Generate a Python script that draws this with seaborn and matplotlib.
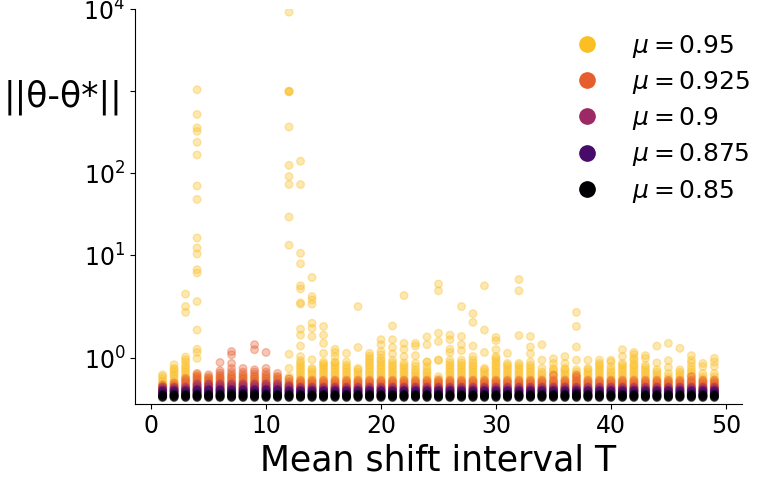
import numpy as np
import pandas as pd
import matplotlib
matplotlib.use("Agg")
import matplotlib.pyplot as plt
import seaborn as sns
from matplotlib.lines import Line2D
from matplotlib.ticker import NullLocator

# mean shift interval T = 1..49
T = list(range(1, 50))
mus = [0.95, 0.925, 0.9, 0.875, 0.85]
labels = [r"$\mu = 0.95$", r"$\mu = 0.925$", r"$\mu = 0.9$", r"$\mu = 0.875$", r"$\mu = 0.85$"]

# ||theta - theta*|| per T (one list per T)
err_095 = [
    [.35, .40, .45, .50, .55, .60, .64],
    [.35, .40, .45, .50, .55, .60, .65, .70, .75, .78, .86],
    [.35, .40, .45, .50, .55, .60, .65, .70, .75, .80, .85, .92, .97, 1.03, 2.02, 2.38, 3.37],
    [.35, .40, .45, .50, .55, .60, .65, 1.0, 1.13, 1.2, 1.62, 2.74, 6.1, 6.7, 10.4, 12.3, 16.3,
     48, 70, 167, 238, 324, 357, 520, 1040],
    [.35, .40, .45, .50, .55, .60],
    [.35, .40, .45, .50, .55, .60],
    [.35, .40, .45, .50, .55, .60],
    [.35, .40, .45, .50, .55, .60],
    [.35, .40, .45, .50, .55, .60],
    [.35, .40, .45, .50, .55, .60],
    [.35, .40, .45, .50, .55, .60],
    [.35, .40, .45, .50, .55, .60, .78, 1.09, 13.3, 29.3, 73, 91, 125, 366, 980, 990, 1000, 9160],
    [.35, .40, .45, .50, .55, .60, .65, .70, .75, .80, .85, .90, .95, 1.04, 1.27, 1.51, 1.64,
     2.55, 2.64, 3.9, 4.26, 7.9, 10.6, 72.8, 140],
    [.35, .40, .45, .50, .55, .60, .65, .70, .75, .78, .97, 1.48, 1.66, 1.77, 2.55, 2.87, 3.15, 5.37],
    [.35, .40, .45, .50, .55, .60, .65, .70, .75, .80, .84, .88, .92, 1.11, 1.33, 1.51, 1.70],
    [.35, .40, .45, .50, .55, .60, .65, .70, .75, .80, .85, .90, .92, 1.04, 1.13, 1.2],
    [.35, .40, .45, .50, .55, .60, .65, .70, .75, .80, .85, .92, 1.11],
    [.35, .40, .45, .50, .55, .60, .65, .70, .75, .78, 1.24, 2.38],
    [.35, .40, .45, .50, .55, .60, .65, .70, .75, .80, .85, .90, .95, 1.0, 1.05, 1.11],
    [.35, .40, .45, .50, .55, .60, .65, .70, .75, .80, .85, .90, .95, 1.0, 1.08, 1.15, 1.30, 1.41],
    [.35, .40, .45, .50, .55, .60, .65, .70, .75, .80, .85, .90, .96, 1.1, 1.24, 1.41, 1.71],
    [.35, .40, .45, .50, .55, .60, .65, .70, .75, .80, .85, .90, 1.04, 1.2, 1.33, 3.24],
    [.35, .40, .45, .50, .55, .60, .65, .70, .75, .82, .89, 1.06, 1.27, 1.33],
    [.35, .40, .45, .50, .55, .60, .65, .70, .75, .82, .92, .92, 1.30, 1.47],
    [.35, .40, .45, .50, .55, .60, .96, .96, 1.37, 1.55, 3.70, 4.47],
    [.35, .40, .45, .50, .55, .60, .65, .70, .75, .80, .85, .90, .96, 1.13, 1.2, 1.41, 1.51],
    [.35, .40, .45, .50, .55, .60, .65, .70, .75, .80, .85, .90, .96, 1.17, 1.3, 1.48, 2.38],
    [.35, .40, .45, .50, .55, .60, .65, .70, .75, .80, .85, .90, .96, 1.04, 1.27, 1.79, 1.98],
    [.35, .40, .45, .50, .55, .60, .65, .70, .75, .78, 1.13, 1.62, 4.26],
    [.35, .40, .45, .50, .55, .60, .65, .70, .75, .80, .85, .90, .95, 1.0, 1.04, 1.19, 1.39, 1.46],
    [.35, .40, .45, .50, .55, .60, .65, .70, .75, .80, .85, .89, 1.11],
    [.35, .40, .45, .50, .55, .60, .65, .70, .75, .80, .85, .89, 1.50, 3.7, 5.08],
    [.35, .40, .45, .50, .55, .60, .65, .70, .75, .80, .85, .92, 1.1, 1.25, 1.48],
    [.35, .40, .45, .50, .55, .60, .65, .70, .78, .96, 1.3],
    [.35, .40, .45, .50, .55, .60, .65, .70, .75, .78, .89, .99],
    [.35, .40, .45, .50, .55, .60, .65, .70, .75, .78, .89, 1.04],
    [.35, .40, .45, .50, .55, .60, .65, .70, .75, .96, 1.25, 1.70, 2.02],
    [.35, .40, .45, .50, .55, .60, .65, .70, .75, .78, .96],
    [.35, .40, .45, .50, .55, .60, .65, .70, .75, .80, .85, .89, .96],
    [.35, .40, .45, .50, .55, .60, .65, .70, .75, .82, .92, .96],
    [.35, .40, .45, .50, .55, .60, .65, .70, .75, .80, .85, .89, 1.04, 1.19],
    [.35, .40, .45, .50, .55, .60, .65, .70, .75, .80, .85, .89, .96, 1.0, 1.08, 1.13],
    [.35, .40, .45, .50, .55, .60, .65, .70, .75, .80, .85, 1.0, 1.06],
    [.35, .40, .45, .50, .55, .60, .65, .70, .75, .9, 1.27],
    [.35, .40, .45, .50, .55, .60, .67, .8, .95, 1.33],
    [.35, .40, .45, .50, .55, .60, .65, .70, .75, 1.22],
    [.35, .40, .45, .50, .55, .60, .65, .70, .75, .82, .9, .96, 1.06],
    [.35, .40, .45, .50, .55, .60, .67, .82, .89],
    [.35, .40, .45, .50, .55, .60, .67, .82, .92, 1.0],
]

err_0925 = [
    [.30, .33, .36, .39, .42],
    [.30, .34, .38, .42, .46],
    [.32, .36, .40, .44, .48, .52, .56],
    [.34, .38, .42, .46, .50, .54, .58, .62, .67],
    [.34, .38, .42, .46, .50, .54, .58, .64],
    [.34, .38, .42, .46, .50, .54, .58, .63, .68, .73, .91],
    [.34, .38, .42, .46, .50, .55, .60, .65, .70, .78, .89, 1.08, 1.15],
    [.34, .38, .42, .46, .50, .55, .60, .65, .70, .78],
    [.34, .38, .42, .46, .50, .55, .60, .65, .70, .75, 1.19, 1.30],
    [.34, .38, .42, .46, .50, .55, .60, .65, .70, .78, 1.13],
    [.34, .38, .42, .46, .50, .55, .60, .67],
    [.32, .36, .40, .44, .48, .55],
    [.32, .36, .40, .44, .48, .52], [.32, .36, .40, .44, .48, .52], [.32, .36, .40, .44, .48, .52],
    [.32, .36, .40, .44, .48, .52], [.32, .36, .40, .44, .48, .52], [.32, .36, .40, .44, .48, .52],
    [.32, .36, .40, .44, .48, .52], [.32, .36, .40, .44, .48, .52], [.32, .36, .40, .44, .48, .52],
    [.32, .36, .40, .44, .48, .52], [.32, .36, .40, .44, .48, .52], [.32, .36, .40, .44, .48, .52],
    [.32, .36, .40, .44, .48, .52], [.32, .36, .40, .44, .48, .52], [.32, .36, .40, .44, .48, .52],
    [.32, .36, .40, .44, .48, .52], [.32, .36, .40, .44, .48, .52], [.32, .36, .40, .44, .48, .52],
    [.32, .36, .40, .44, .48, .52], [.32, .36, .40, .44, .48, .52], [.32, .36, .40, .44, .48, .52],
    [.32, .36, .40, .44, .48, .52], [.32, .36, .40, .44, .48, .52, .63], [.32, .36, .40, .44, .48, .52],
    [.32, .36, .40, .44, .48, .52, .58, .63], [.32, .36, .40, .44, .48, .52], [.32, .36, .40, .44, .48, .52],
    [.32, .36, .40, .44, .48, .52], [.32, .36, .40, .44, .48, .52], [.32, .36, .40, .44, .48, .52],
    [.32, .36, .40, .44, .48, .52], [.32, .36, .40, .44, .48, .52], [.32, .36, .40, .44, .48, .52],
    [.32, .36, .40, .44, .48, .52], [.32, .36, .40, .44, .48, .52, .60], [.32, .36, .40, .44, .48, .52],
    [.32, .36, .40, .44, .48, .52],
]

err_090 = [
    [.28, .31, .34, .37], [.28, .31, .34, .37], [.28, .31, .34, .37],
    [.28, .31, .34, .37, .40, .44], [.28, .31, .34, .37, .40, .44], [.28, .31, .34, .37, .40, .44],
    [.28, .31, .34, .37, .40, .44], [.28, .31, .34, .37, .40, .44], [.28, .31, .34, .37, .40, .44],
    [.28, .31, .34, .37, .40, .44], [.28, .31, .34, .37, .40, .44], [.28, .31, .34, .37, .40],
    [.28, .31, .34, .37], [.28, .31, .34, .37], [.28, .31, .34, .37], [.28, .31, .34, .37],
    [.28, .31, .34, .37], [.28, .31, .34, .37], [.28, .31, .34, .37], [.28, .31, .34, .37],
    [.28, .31, .34, .37], [.28, .31, .34, .37], [.28, .31, .34, .37], [.28, .31, .34, .37],
    [.28, .31, .34, .37], [.28, .31, .34, .37], [.28, .31, .34, .37], [.28, .31, .34, .37],
    [.28, .31, .34, .37], [.28, .31, .34, .37], [.28, .31, .34, .37], [.28, .31, .34, .37],
    [.28, .31, .34, .37], [.28, .31, .34, .37], [.28, .31, .34, .37], [.28, .31, .34, .37],
    [.28, .31, .34, .37], [.28, .31, .34, .37], [.28, .31, .34, .37], [.28, .31, .34, .37],
    [.28, .31, .34, .37], [.28, .31, .34, .37], [.28, .31, .34, .37], [.28, .31, .34, .37],
    [.28, .31, .34, .37], [.28, .31, .34, .37], [.28, .31, .34, .37], [.28, .31, .34, .37],
    [.28, .31, .34, .37],
]

err_0875 = [
    [.22, .24, .26, .28, .30], [.22, .24, .26, .28, .30], [.22, .24, .26, .28, .30],
    [.22, .24, .26, .28, .30, .32], [.22, .24, .26, .28, .30, .32], [.22, .24, .26, .28, .30, .32],
    [.22, .24, .26, .28, .30, .32], [.22, .24, .26, .28, .30, .32], [.22, .24, .26, .28, .30, .32],
    [.22, .24, .26, .28, .30, .32], [.22, .24, .26, .28, .30, .32], [.22, .24, .26, .28, .30],
    [.22, .24, .26, .28, .30], [.22, .24, .26, .28, .30], [.22, .24, .26, .28, .30], [.22, .24, .26, .28, .30],
    [.22, .24, .26, .28, .30], [.22, .24, .26, .28, .30], [.22, .24, .26, .28, .30], [.22, .24, .26, .28, .30],
    [.22, .24, .26, .28, .30], [.22, .24, .26, .28, .30], [.22, .24, .26, .28, .30], [.22, .24, .26, .28, .30],
    [.22, .24, .26, .28, .30], [.22, .24, .26, .28, .30], [.22, .24, .26, .28, .30], [.22, .24, .26, .28, .30],
    [.22, .24, .26, .28, .30], [.22, .24, .26, .28, .30], [.22, .24, .26, .28, .30], [.22, .24, .26, .28, .30],
    [.22, .24, .26, .28, .30], [.22, .24, .26, .28, .30], [.22, .24, .26, .28, .30], [.22, .24, .26, .28, .30],
    [.22, .24, .26, .28, .30], [.22, .24, .26, .28, .30], [.22, .24, .26, .28, .30], [.22, .24, .26, .28, .30],
    [.22, .24, .26, .28, .30], [.22, .24, .26, .28, .30], [.22, .24, .26, .28, .30], [.22, .24, .26, .28, .30],
    [.22, .24, .26, .28, .30], [.22, .24, .26, .28, .30], [.22, .24, .26, .28, .30], [.22, .24, .26, .28, .30],
    [.22, .24, .26, .28, .30],
]

err_085 = [
    [.14, .15, .16, .17, .18, .19, .20, .21], [.14, .15, .16, .17, .18, .19, .20, .21],
    [.14, .15, .16, .17, .18, .19, .20, .21], [.14, .15, .16, .17, .18, .19, .20, .22],
    [.14, .15, .16, .17, .18, .19, .20, .21], [.14, .15, .16, .17, .18, .19, .20, .22],
    [.14, .15, .16, .17, .18, .19, .21, .23], [.14, .15, .16, .17, .18, .19, .21, .23],
    [.14, .15, .16, .17, .18, .19, .21, .23], [.14, .15, .16, .17, .18, .19, .20, .22],
    [.14, .15, .16, .17, .18, .19, .20, .21], [.14, .15, .16, .17, .18, .19, .20, .21],
    [.14, .15, .16, .17, .18, .19, .20, .21], [.14, .15, .16, .17, .18, .19, .20, .21],
    [.14, .15, .16, .17, .18, .19, .20, .21], [.14, .15, .16, .17, .18, .19, .20, .21],
    [.14, .15, .16, .17, .18, .19, .20, .21], [.14, .15, .16, .17, .18, .19, .20, .21],
    [.14, .15, .16, .17, .18, .19, .20, .21], [.14, .15, .16, .17, .18, .19, .20, .21],
    [.14, .15, .16, .17, .18, .19, .20, .21], [.14, .15, .16, .17, .18, .19, .20, .21],
    [.14, .15, .16, .17, .18, .19, .20, .21], [.14, .15, .16, .17, .18, .19, .20, .21],
    [.14, .15, .16, .17, .18, .19, .20, .21], [.14, .15, .16, .17, .18, .19, .20, .21],
    [.14, .15, .16, .17, .18, .19, .20, .21], [.14, .15, .16, .17, .18, .19, .20, .21],
    [.14, .15, .16, .17, .18, .19, .20, .21], [.14, .15, .16, .17, .18, .19, .20, .21],
    [.14, .15, .16, .17, .18, .19, .20, .21], [.14, .15, .16, .17, .18, .19, .20, .21],
    [.14, .15, .16, .17, .18, .19, .20, .21], [.14, .15, .16, .17, .18, .19, .20, .21],
    [.14, .15, .16, .17, .18, .19, .20, .21], [.14, .15, .16, .17, .18, .19, .20, .21],
    [.14, .15, .16, .17, .18, .19, .21, .23], [.14, .15, .16, .17, .18, .19, .20, .21],
    [.14, .15, .16, .17, .18, .19, .20, .21], [.14, .15, .16, .17, .18, .19, .20, .21],
    [.14, .15, .16, .17, .18, .19, .20, .21], [.14, .15, .16, .17, .18, .19, .20, .21],
    [.14, .15, .16, .17, .18, .19, .20, .21], [.14, .15, .16, .17, .18, .19, .20, .21],
    [.14, .15, .16, .17, .18, .19, .20, .21], [.14, .15, .16, .17, .18, .19, .20, .21],
    [.14, .15, .16, .17, .18, .19, .20, .21], [.14, .15, .16, .17, .18, .19, .20, .21],
    [.14, .15, .16, .17, .18, .19, .20, .21],
]

series = [err_095, err_0925, err_090, err_0875, err_085]

# long table, mu=0.95 first so the darker ones end up on top
rows = []
for lab, vals in zip(labels, series):
    for t, col in zip(T, vals):
        for v in col:
            rows.append((t, v, lab))
df = pd.DataFrame(rows, columns=["T", "err", "mu"])

colors = plt.cm.inferno(np.linspace(0.85, 0.0, 5))
pal = dict(zip(labels, colors))

fig = plt.figure(figsize=(7.61, 4.84), dpi=100)
ax = fig.add_axes([0.1774, 0.1653, 0.7976, 0.8161])

sns.scatterplot(data=df, x="T", y="err", hue="mu", palette=pal, hue_order=labels,
                s=30, alpha=0.35, edgecolor="face", linewidth=1, legend=False, ax=ax)

ax.set_yscale("symlog", linthresh=2, linscale=1)
ax.set_ylim(0, 1e4)
ax.set_yticks([1, 10, 100, 1000, 10000])
ax.set_yticklabels([r"$10^{0}$", r"$10^{1}$", r"$10^{2}$", "", r"$10^{4}$"])
ax.yaxis.set_minor_locator(NullLocator())
ax.set_xticks([0, 10, 20, 30, 40, 50])
ax.tick_params(labelsize=17)
sns.despine(ax=ax)

ax.set_xlabel("Mean shift interval T", fontsize=25)
ax.set_ylabel("||θ-θ*||", fontsize=25, rotation=0, ha="center", va="center")
ax.yaxis.set_label_coords(-0.119, 0.777)

handles = [Line2D([], [], marker="o", ls="", color=c, markersize=11) for c in colors]
ax.legend(handles, labels, frameon=False, fontsize=18, loc="upper right",
          labelspacing=0.37, bbox_to_anchor=(1.05, 0.997))

fig.savefig("out.png", dpi=100)
